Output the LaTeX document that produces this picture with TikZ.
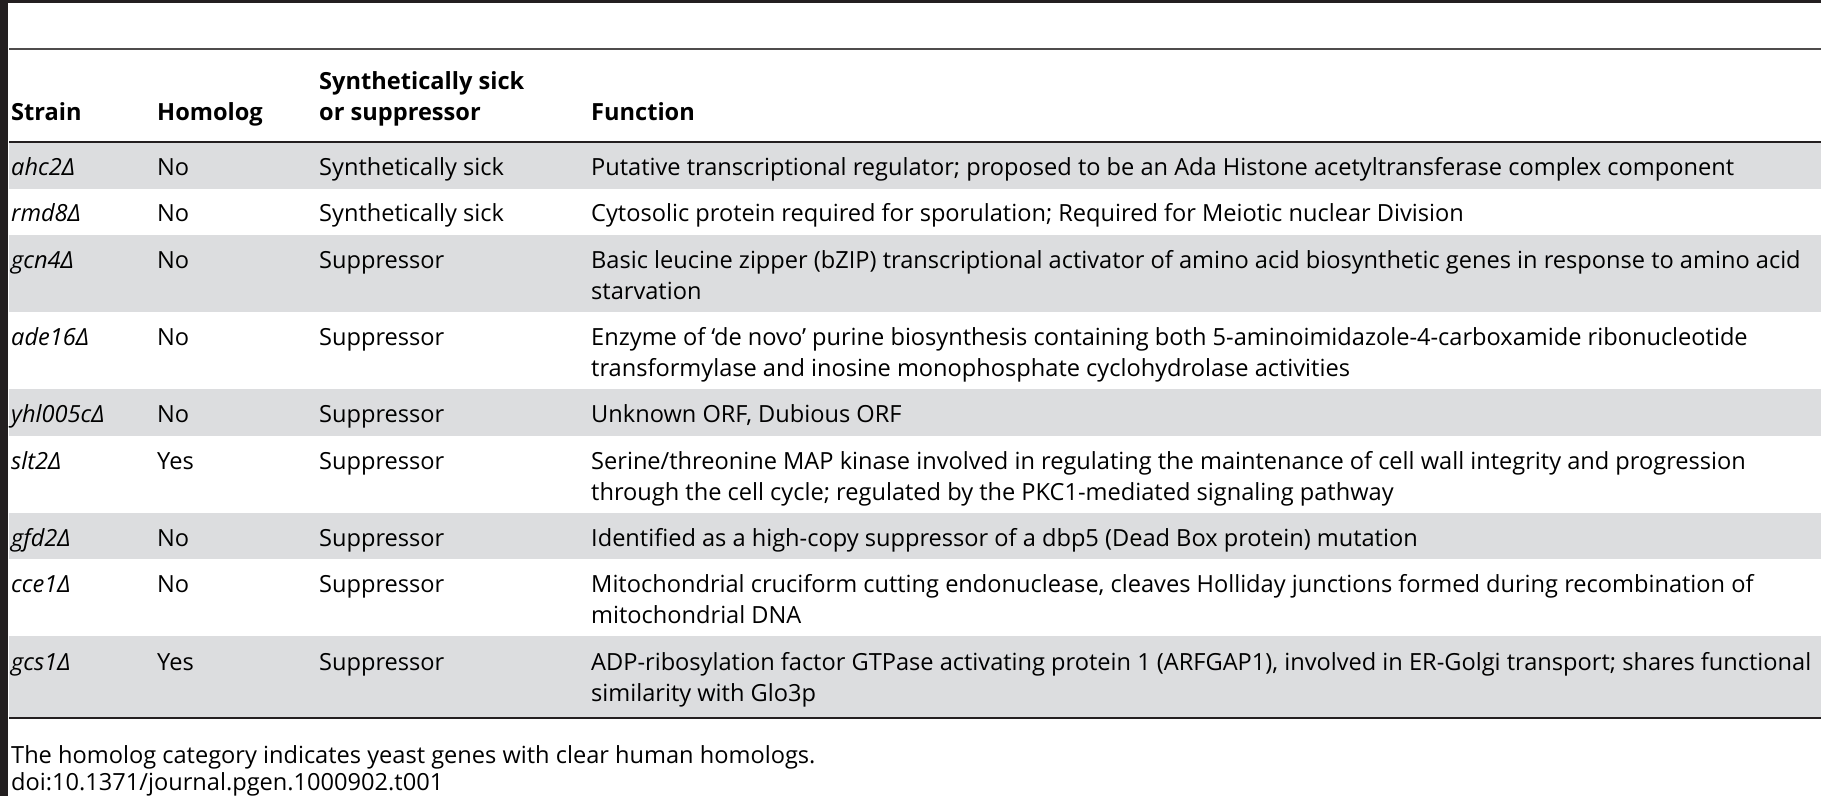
\documentclass[tikz,border=0pt]{standalone}
\usepackage{fontspec}
\setmainfont{Open Sans}
\newfontfamily\dfont{Open Sans}
\definecolor{rowgray}{HTML}{DCDDDF}
\definecolor{barcol}{HTML}{231F20}
\newcommand{\Dl}{{\dfont\itshape\char"0394}}
\newcommand{\Du}{{\dfont\char"0394}}
\begin{document}
\begin{tikzpicture}[x=1pt,y=-1pt,
  txt/.style={anchor=base west,inner sep=0pt,font=\fontsize{23.6}{28}\selectfont},
  hdr/.style={txt,font=\fontsize{23.6}{28}\selectfont\bfseries}]
\useasboundingbox (0,0) rectangle (1821,800);
\fill[white] (0,0) rectangle (1821,800);
% gray rows
\foreach \a/\b in {142/189,235/312,389/436,513/559,636/718}
  \fill[rowgray] (9,\a) rectangle (1821,\b);
\fill[barcol] (0,0) rectangle (1821,3.5);
\fill[barcol] (0,0) rectangle (7.5,796);
\draw[line width=1.3pt,barcol!80] (9,49) -- (1821,49);
\draw[line width=1.5pt,barcol] (9,142) -- (1821,142);
\draw[line width=2pt,barcol] (9,718) -- (1821,718);
% header
\node[hdr] (h1) at (11,120) {Strain};
\node[hdr] (h2) at (157,120) {Homolog};
\node[hdr] (h3a) at (319,89) {Synthetically sick};
\node[hdr] (h3b) at (319,120) {or suppressor};
\node[hdr] (h4) at (591,120) {Function};
% rows
\node[txt] (s1) at (11,175) {\itshape ahc2\Dl};
\node[txt] (o1) at (157,175) {No};
\node[txt] (p1) at (319,175) {Synthetically sick};
\node[txt] (f1) at (591,175) {Putative transcriptional regulator; proposed to be an Ada Histone acetyltransferase complex component};
\node[txt] (s2) at (11,221) {\itshape rmd8\Dl};
\node[txt] (o2) at (157,221) {No};
\node[txt] (p2) at (319,221) {Synthetically sick};
\node[txt] (f2) at (591,221) {Cytosolic protein required for sporulation; Required for Meiotic nuclear Division};
\node[txt] (s3) at (11,268) {\itshape gcn4\Dl};
\node[txt] (o3) at (157,268) {No};
\node[txt] (p3) at (319,268) {Suppressor};
\node[txt] (f3) at (591,268) {Basic leucine zipper (bZIP) transcriptional activator of amino acid biosynthetic genes in response to amino acid};
\node[txt] (f3b) at (591,299) {starvation};
\node[txt] (s4) at (11,345) {\itshape ade16\Du};
\node[txt] (o4) at (157,345) {No};
\node[txt] (p4) at (319,345) {Suppressor};
\node[txt] (f4) at (591,345) {Enzyme of ‘de novo’ purine biosynthesis containing both 5-aminoimidazole-4-carboxamide ribonucleotide};
\node[txt] (f4b) at (591,376) {transformylase and inosine monophosphate cyclohydrolase activities};
\node[txt] (s5) at (11,422) {\itshape yhl005c\Du};
\node[txt] (o5) at (157,422) {No};
\node[txt] (p5) at (319,422) {Suppressor};
\node[txt] (f5) at (591,422) {Unknown ORF, Dubious ORF};
\node[txt] (s6) at (11,469) {\itshape slt2\Du};
\node[txt] (o6) at (157,469) {Yes};
\node[txt] (p6) at (319,469) {Suppressor};
\node[txt] (f6) at (591,469) {Serine/threonine MAP kinase involved in regulating the maintenance of cell wall integrity and progression};
\node[txt] (f6b) at (591,500) {through the cell cycle; regulated by the PKC1-mediated signaling pathway};
\node[txt] (s7) at (11,546) {\itshape gfd2\Dl};
\node[txt] (o7) at (157,546) {No};
\node[txt] (p7) at (319,546) {Suppressor};
\node[txt] (f7) at (591,546) {Identified as a high-copy suppressor of a dbp5 (Dead Box protein) mutation};
\node[txt] (s8) at (11,592) {\itshape cce1\Dl};
\node[txt] (o8) at (157,592) {No};
\node[txt] (p8) at (319,592) {Suppressor};
\node[txt] (f8) at (591,592) {Mitochondrial cruciform cutting endonuclease, cleaves Holliday junctions formed during recombination of};
\node[txt] (f8b) at (591,623) {mitochondrial DNA};
\node[txt] (s9) at (11,670) {\itshape gcs1\Dl};
\node[txt] (o9) at (157,670) {Yes};
\node[txt] (p9) at (319,670) {Suppressor};
\node[txt] (f9) at (591,670) {ADP-ribosylation factor GTPase activating protein 1 (ARFGAP1), involved in ER-Golgi transport; shares functional};
\node[txt] (f9b) at (591,701) {similarity with Glo3p};
% footnote
\node[txt] (n1) at (11,763) {The homolog category indicates yeast genes with clear human homologs.};
\node[txt] (n2) at (11,790) {doi:10.1371/journal.pgen.1000902.t001};
\end{tikzpicture}
\end{document}
